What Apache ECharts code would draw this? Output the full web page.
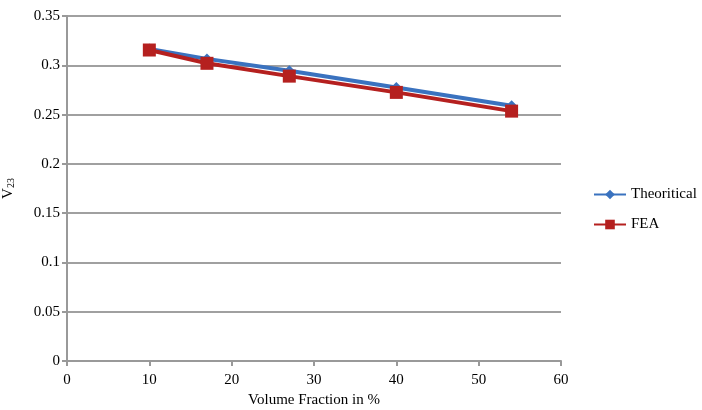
<!DOCTYPE html>
<html style="height: 100%">
<head>
<meta charset="utf-8">
<script src="https://cdn.jsdelivr.net/npm/echarts@6/dist/echarts.min.js"></script>
</head>
<body style="height: 100%; margin: 0">
<div id="container" style="width: 702px; height: 410px"></div>
<script type="text/javascript">
var volumeFraction = [10, 17, 27, 40, 54];
var theoretical = [0.3165, 0.3065, 0.2945, 0.2775, 0.259];
var fea = [0.3155, 0.302, 0.289, 0.2725, 0.2535];

var font = 'Liberation Serif';
var myChart = echarts.init(document.getElementById('container'));

function pairs(xs, ys) {
    return xs.map(function (x, i) { return [x, ys[i]]; });
}

var option = {
    animation: false,
    textStyle: { fontFamily: font },
    grid: { left: 67, right: 141, top: 16, bottom: 49, outerBoundsMode: 'none', containLabel: false },
    legend: {
        orient: 'vertical',
        left: 588,
        top: 182,
        itemGap: 15,
        itemWidth: 32,
        itemHeight: 12,
        textStyle: { fontFamily: font, fontSize: 15, color: '#000' },
        data: ['Theoritical', 'FEA']
    },
    xAxis: {
        type: 'value',
        min: 0, max: 60, interval: 10,
        name: 'Volume Fraction in %',
        nameLocation: 'middle',
        nameGap: 32,
        nameTextStyle: { fontFamily: font, fontSize: 15, color: '#000' },
        axisLine: { lineStyle: { color: '#999', width: 2 } },
        axisTick: { show: true, length: 5, lineStyle: { color: '#999', width: 2 } },
        axisLabel: { fontFamily: font, fontSize: 15, color: '#000', margin: 12 },
        splitLine: { show: false }
    },
    yAxis: {
        type: 'value',
        min: 0, max: 0.35, interval: 0.05,
        name: '{v|V}{s|23}',
        nameLocation: 'middle',
        nameGap: 51,
        nameRotate: 90,
        nameTextStyle: {
            rich: {
                v: { fontFamily: font, fontSize: 15, color: '#000' },
                s: { fontFamily: font, fontSize: 10, color: '#000', verticalAlign: 'bottom', padding: [6, 0, 0, 0] }
            }
        },
        axisLine: { show: true, lineStyle: { color: '#999', width: 2 } },
        axisTick: { show: true, length: 5, lineStyle: { color: '#999', width: 2 } },
        axisLabel: { fontFamily: font, fontSize: 15, color: '#000', margin: 7 },
        splitLine: { show: true, lineStyle: { color: '#a0a0a0', width: 2 } }
    },
    series: [{
        name: 'Theoritical',
        type: 'line',
        data: pairs(volumeFraction, theoretical),
        symbol: 'diamond',
        symbolSize: 11,
        itemStyle: { color: '#3a72bf' },
        lineStyle: { color: '#3a72bf', width: 4 },
        z: 2
    }, {
        name: 'FEA',
        type: 'line',
        data: pairs(volumeFraction, fea),
        symbol: 'rect',
        symbolSize: 13,
        itemStyle: { color: '#b5201f' },
        lineStyle: { color: '#b5201f', width: 4 },
        z: 3
    }]
};
myChart.setOption(option);
</script>
</body>
</html>
